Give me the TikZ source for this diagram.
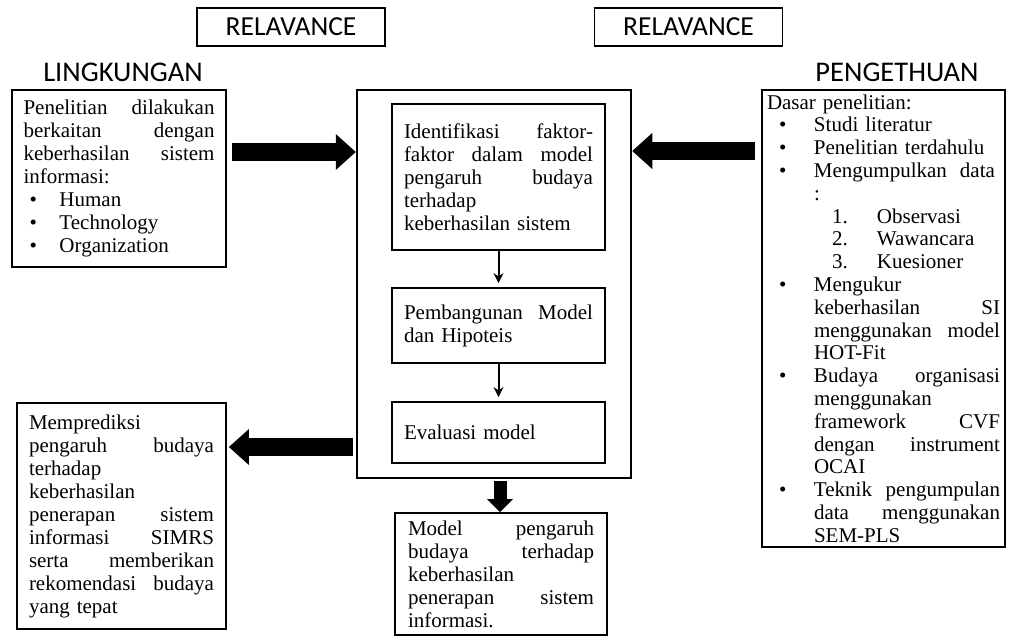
\documentclass[tikz,border=0pt]{standalone}
\usepackage{fontspec}
\setmainfont{Liberation Serif}
\newfontfamily\calib{Carlito}
\usepackage{tikz}
\usetikzlibrary{arrows.meta,positioning}
\tikzset{txtbox/.style={rectangle,draw,line width=1.8pt,inner xsep=0pt,inner ysep=2pt,align=left,font=\fontsize{21}{23}\selectfont}}
\tikzset{relbox/.style={rectangle,draw,line width=1.8pt,minimum width=188pt,minimum height=38pt,font=\calib\fontsize{27.5}{30}\selectfont}}
\tikzset{hdr/.style={font=\calib\fontsize{28.5}{30}\selectfont}}
\tikzset{bigarr/.style={line width=18pt,-{Triangle[length=20pt,width=36pt,line width=0pt]}}}
\tikzset{midarr/.style={line width=13pt,-{Triangle[length=13pt,width=26pt,line width=0pt]}}}
\tikzset{thinarr/.style={line width=2pt,-{Stealth[length=10pt,width=10pt]}}}
\newcommand{\bl}{\hspace*{6pt}\makebox[30pt][l]{\textbullet}}
\newcommand{\rb}{\hspace*{12pt}\makebox[35pt][l]{\textbullet}}
\newcommand{\ri}{\hspace*{47pt}}
\newcommand{\rn}[1]{\hspace*{65pt}\makebox[45pt][l]{#1}}

\begin{document}
\begin{tikzpicture}[x=1pt,y=-1pt,>=stealth]
        \useasboundingbox (0,0) rectangle (1009,642);

        % headings
        \node[relbox] (rel1) at (291,27) {RELAVANCE};
        \node[relbox] (rel2) at (688.5,27) {RELAVANCE};
        \node[hdr] (lingk) at (123,72) {LINGKUNGAN};
        \node[hdr] (penget) at (897,72) {PENGETHUAN};

        % left side
        \node[txtbox,text width=191pt,minimum width=214pt,minimum height=177pt] (lbox) at (119,178.5) {%
            Penelitian\hfill dilakukan\\
            berkaitan\hfill dengan\\
            keberhasilan\hfill sistem\\
            informasi:\\
            \bl Human\\
            \bl Technology\\
            \bl Organization};
        \node[txtbox,text width=185pt,minimum width=209pt,minimum height=226pt] (bbox) at (121.5,516) {%
            Memprediksi\\
            pengaruh\hfill budaya\\
            terhadap\\
            keberhasilan\\
            penerapan\hfill sistem\\
            informasi\hfill SIMRS\\
            serta\hfill memberikan\\
            rekomendasi\hfill budaya\\
            yang tepat};

        % middle
        \node[rectangle,draw,line width=2.5pt,minimum width=274pt,minimum height=388pt] (outer) at (494,284) {};
        \node[txtbox,text width=189pt,minimum width=213pt,minimum height=146pt] (in1) at (498.5,177) {%
            Identifikasi\hfill faktor-\\
            faktor\hfill dalam\hfill model\\
            pengaruh\hfill budaya\\
            terhadap\\
            keberhasilan sistem};
        \node[txtbox,text width=189pt,minimum width=213pt,minimum height=75pt] (in2) at (498.5,325.5) {%
            Pembangunan\hfill Model\\
            dan Hipoteis};
        \node[txtbox,text width=189pt,minimum width=213pt,minimum height=61pt] (in3) at (498.5,432.5) {%
            Evaluasi model};
        \node[txtbox,text width=186pt,minimum width=212pt,minimum height=122pt] (mbox) at (501,574) {%
            Model\hfill pengaruh\\
            budaya\hfill terhadap\\
            keberhasilan\\
            penerapan\hfill sistem\\
            informasi.};

        % right side
        \node[txtbox,line width=2.6pt,inner ysep=0pt,text width=233pt,minimum width=243pt,minimum height=457pt,font=\fontsize{21}{22.8}\selectfont] (rbox) at (883.5,318.5) {%
            Dasar penelitian:\\
            \rb Studi literatur\\
            \rb Penelitian terdahulu\\
            \rb Mengumpulkan\hspace{6pt} data\\
            \ri :\\
            \rn{1.}Observasi\\
            \rn{2.}Wawancara\\
            \rn{3.}Kuesioner\\
            \rb Mengukur\\
            \ri keberhasilan\hfill SI\\
            \ri menggunakan\hfill model\\
            \ri HOT-Fit\\
            \rb Budaya\hfill organisasi\\
            \ri menggunakan\\
            \ri framework\hfill CVF\\
            \ri dengan\hfill instrument\\
            \ri OCAI\\
            \rb Teknik\hfill pengumpulan\\
            \ri data\hfill menggunakan\\
            \ri SEM-PLS};

        % arrows
        \coordinate (a1s) at (232,152);
        \coordinate (a2s) at (755,151);
        \coordinate (a3s) at (353,447);
        \coordinate (a4s) at (500,481);
        \draw [bigarr] (a1s) to [] (a1s -| outer.west);
        \draw [bigarr] (a2s) to [] (a2s -| outer.east);
        \draw [bigarr,shorten >=2pt] (a3s) to [] (a3s -| bbox.east);
        \draw [midarr] (a4s) to [] (a4s |- mbox.north);
        \draw [thinarr,shorten >=4pt] (in1) to [] (in2);
        \draw [thinarr,shorten >=4pt] (in2) to [] (in3);
    \end{tikzpicture}
\end{document}
